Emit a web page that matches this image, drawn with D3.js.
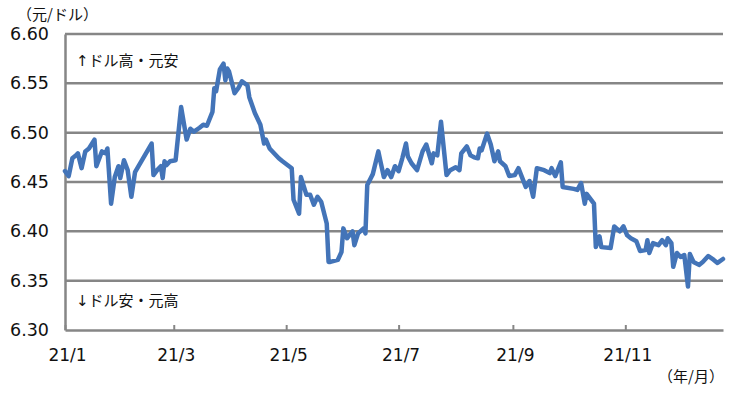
<!DOCTYPE html>
<html>
<head>
<meta charset="utf-8">
<script src="https://cdn.jsdelivr.net/npm/d3@7"></script>
<style>
  html, body { margin: 0; padding: 0; background: #fff; }
  svg { display: block; }
</style>
</head>
<body>
<svg id="chart" width="732" height="393"></svg>
<script>
// ---- data (CNY per USD, 2021) ----
const dates = [
  "2021-01-01","2021-01-03","2021-01-05","2021-01-07","2021-01-08","2021-01-10","2021-01-12","2021-01-14",
  "2021-01-17","2021-01-18","2021-01-21","2021-01-23","2021-01-24","2021-01-26","2021-01-28","2021-01-30",
  "2021-01-31","2021-02-02","2021-02-04","2021-02-06","2021-02-08","2021-02-17","2021-02-18","2021-02-20",
  "2021-02-22","2021-02-23","2021-02-24","2021-02-25","2021-02-27","2021-03-02","2021-03-05","2021-03-08",
  "2021-03-10","2021-03-12","2021-03-15","2021-03-17","2021-03-19","2021-03-22","2021-03-23","2021-03-24",
  "2021-03-26","2021-03-28","2021-03-29","2021-03-30","2021-03-31","2021-04-03","2021-04-05","2021-04-07",
  "2021-04-10","2021-04-11","2021-04-14","2021-04-17","2021-04-19","2021-04-20","2021-04-22","2021-04-27",
  "2021-04-29","2021-05-04","2021-05-05","2021-05-08","2021-05-09","2021-05-12","2021-05-14","2021-05-16",
  "2021-05-18","2021-05-20","2021-05-23","2021-05-24","2021-05-25","2021-05-29","2021-05-31","2021-06-01",
  "2021-06-03","2021-06-06","2021-06-07","2021-06-09","2021-06-12","2021-06-13","2021-06-14","2021-06-17",
  "2021-06-20","2021-06-21","2021-06-23","2021-06-25","2021-06-27","2021-06-29","2021-07-01","2021-07-03",
  "2021-07-05","2021-07-06","2021-07-08","2021-07-11","2021-07-14","2021-07-16","2021-07-19","2021-07-20",
  "2021-07-22","2021-07-24","2021-07-27","2021-07-29","2021-08-01","2021-08-03","2021-08-04","2021-08-07",
  "2021-08-09","2021-08-11","2021-08-13","2021-08-14","2021-08-15","2021-08-18","2021-08-20","2021-08-22",
  "2021-08-24","2021-08-25","2021-08-28","2021-08-30","2021-09-02","2021-09-04","2021-09-08","2021-09-10",
  "2021-09-12","2021-09-14","2021-09-18","2021-09-21","2021-09-22","2021-09-24","2021-09-27","2021-09-28",
  "2021-10-04","2021-10-06","2021-10-08","2021-10-10","2021-10-11","2021-10-15","2021-10-16","2021-10-18",
  "2021-10-19","2021-10-24","2021-10-26","2021-10-29","2021-10-31","2021-11-02","2021-11-04","2021-11-07",
  "2021-11-09","2021-11-12","2021-11-13","2021-11-14","2021-11-16","2021-11-19","2021-11-21","2021-11-23",
  "2021-11-24","2021-11-26","2021-11-27","2021-11-29","2021-12-01","2021-12-03","2021-12-05","2021-12-06",
  "2021-12-08","2021-12-11","2021-12-13","2021-12-16","2021-12-19","2021-12-21","2021-12-24"
];
const rates = [
  6.461,6.456,6.474,6.477,6.479,6.464,6.481,6.484,
  6.493,6.466,6.481,6.479,6.484,6.428,6.455,6.466,
  6.454,6.472,6.462,6.435,6.460,6.489,6.457,6.462,
  6.466,6.454,6.471,6.467,6.471,6.472,6.526,6.493,
  6.504,6.501,6.505,6.508,6.507,6.521,6.545,6.542,
  6.564,6.570,6.553,6.565,6.562,6.540,6.545,6.552,
  6.548,6.536,6.520,6.508,6.489,6.493,6.484,6.474,
  6.471,6.464,6.432,6.418,6.455,6.437,6.437,6.427,
  6.435,6.430,6.408,6.369,6.369,6.371,6.379,6.403,
  6.393,6.400,6.386,6.398,6.403,6.398,6.447,6.458,
  6.481,6.472,6.455,6.462,6.455,6.466,6.461,6.474,
  6.489,6.476,6.469,6.462,6.481,6.488,6.469,6.479,
  6.477,6.511,6.457,6.462,6.465,6.462,6.479,6.486,
  6.477,6.475,6.474,6.484,6.482,6.499,6.488,6.471,
  6.481,6.471,6.466,6.456,6.457,6.464,6.445,6.451,
  6.435,6.464,6.462,6.459,6.464,6.456,6.470,6.445,
  6.443,6.442,6.449,6.428,6.438,6.428,6.384,6.395,
  6.384,6.383,6.405,6.400,6.405,6.396,6.393,6.390,
  6.380,6.381,6.391,6.378,6.388,6.386,6.391,6.386,
  6.393,6.388,6.364,6.378,6.374,6.376,6.344,6.377,
  6.369,6.366,6.369,6.375,6.371,6.368,6.372
];
const yTicks = [6.30, 6.35, 6.40, 6.45, 6.50, 6.55, 6.60];
const xDomain = ["2021-01-01", "2021-12-24"];
const xTickDates = ["2021-01-01","2021-03-01","2021-05-01","2021-07-01","2021-09-01","2021-11-01"];
const yUnitLabel = "（元/ドル）";
const xUnitLabel = "（年/月）";
const noteUp = ["↑", "ドル高・元安"];
const noteDown = ["↓", "ドル安・元高"];

// ---- chart ----
(function () {
  const parse = d3.timeParse("%Y-%m-%d");
  const data = dates.map((d, i) => ({ date: parse(d), value: rates[i] }));

  const svg = d3.select("#chart");
  const plotL = 65, plotR = 723, plotT = 34, plotB = 330;
  const gridColor = "#868686";
  const lineColor = "#4374b8";
  const numFont = "'DejaVu Sans', Verdana, sans-serif";
  const jpFont = "'Noto Sans CJK JP', 'Noto Sans', sans-serif";

  const x = d3.scaleTime().domain(xDomain.map(parse)).range([plotL, plotR]);
  const y = d3.scaleLinear().domain([6.30, 6.60]).range([plotB, plotT]);

  // gridlines
  svg.append("g")
    .selectAll("line")
    .data(yTicks.filter(v => v > 6.30))
    .join("line")
    .attr("x1", plotL).attr("x2", plotR)
    .attr("y1", d => y(d)).attr("y2", d => y(d))
    .attr("stroke", gridColor).attr("stroke-width", 2.5);

  // y axis
  const yAxis = svg.append("g")
    .attr("transform", `translate(${plotL},0)`)
    .call(d3.axisLeft(y).tickValues(yTicks).tickFormat(d3.format(".2f")).tickSize(0).tickPadding(16));
  yAxis.select(".domain").attr("stroke", gridColor).attr("stroke-width", 2.5);
  yAxis.selectAll("text")
    .attr("font-family", numFont).attr("font-size", 17.5).attr("fill", "#111");

  // x axis
  const xAxis = svg.append("g")
    .attr("transform", `translate(0,${plotB})`)
    .call(d3.axisBottom(x)
      .tickValues(xTickDates.map(parse))
      .tickFormat(d3.timeFormat("%y/%-m"))
      .tickSizeInner(-5).tickSizeOuter(0).tickPadding(19));
  xAxis.select(".domain").attr("stroke", gridColor).attr("stroke-width", 2.5);
  xAxis.selectAll(".tick line").attr("stroke", gridColor).attr("stroke-width", 2);
  xAxis.selectAll("text")
    .attr("font-family", numFont).attr("font-size", 17).attr("fill", "#111").attr("dx", 2);

  // line
  svg.append("path")
    .datum(data)
    .attr("fill", "none")
    .attr("stroke", lineColor)
    .attr("stroke-width", 4.5)
    .attr("stroke-linejoin", "round")
    .attr("stroke-linecap", "round")
    .attr("d", d3.line().x(d => x(d.date)).y(d => y(d.value)));

  // labels
  svg.append("text").attr("x", 17).attr("y", 20)
    .attr("font-family", jpFont).attr("font-size", 15).attr("fill", "#111").text(yUnitLabel);
  svg.append("text").attr("x", 724).attr("y", 382).attr("text-anchor", "end")
    .attr("font-family", jpFont).attr("font-size", 15).attr("fill", "#111").text(xUnitLabel);

  function note(parts, yPos) {
    const t = svg.append("text").attr("x", 76).attr("y", yPos)
      .attr("font-size", 15).attr("fill", "#111");
    t.append("tspan").attr("font-family", numFont).text(parts[0]);
    t.append("tspan").attr("font-family", jpFont).text(parts[1]);
  }
  note(noteUp, 66);
  note(noteDown, 306);
})();
</script>
</body>
</html>
